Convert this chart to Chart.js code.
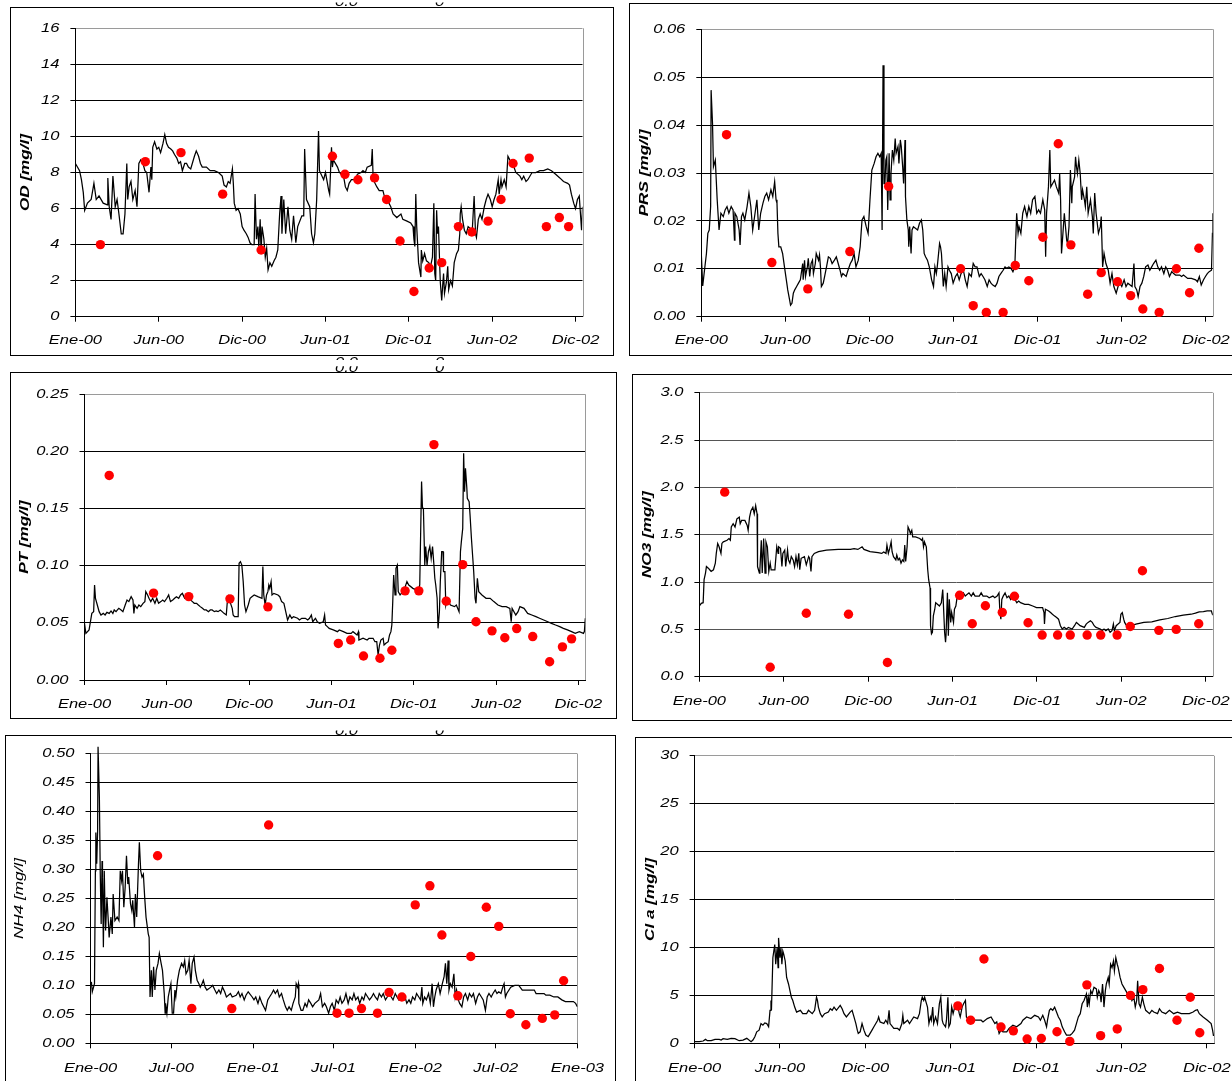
<!DOCTYPE html>
<html>
<head>
<meta charset="utf-8">
<title>Calidad del agua 2000-2002</title>
<script src="https://cdn.jsdelivr.net/npm/chart.js@4.4.1/dist/chart.umd.min.js"></script>
<style>
  html, body { margin: 0; padding: 0; background: #fff; overflow: hidden; width: 1232px; height: 1081px; }
  canvas { position: absolute; }
</style>
</head>
<body>
<canvas id="bg" width="1232" height="1081" style="left:0;top:0"></canvas>
<canvas id="cOD"></canvas>
<canvas id="cPRS"></canvas>
<canvas id="cPT"></canvas>
<canvas id="cNO3"></canvas>
<canvas id="cNH4"></canvas>
<canvas id="cCLA"></canvas>
<script>
// ---- Time axis (days since 1 Jan 2000) ----
const xTickDays = [0, 180, 360, 540, 720, 900, 1080];
const xTickLabels = ['Ene-00', 'Jun-00', 'Dic-00', 'Jun-01', 'Dic-01', 'Jun-02', 'Dic-02'];
const xTickDaysNH4 = [0, 182, 366, 547, 731, 912, 1096];
const xTickLabelsNH4 = ['Ene-00', 'Jul-00', 'Ene-01', 'Jul-01', 'Ene-02', 'Jul-02', 'Ene-03'];

// ---- Y tick labels ----
const odYLabels = ['0', '2', '4', '6', '8', '10', '12', '14', '16'];
const prsYLabels = ['0.00', '0.01', '0.02', '0.03', '0.04', '0.05', '0.06'];
const ptYLabels = ['0.00', '0.05', '0.10', '0.15', '0.20', '0.25'];
const no3YLabels = ['0.0', '0.5', '1.0', '1.5', '2.0', '2.5', '3.0'];
const nh4YLabels = ['0.00', '0.05', '0.10', '0.15', '0.20', '0.25', '0.30', '0.35', '0.40', '0.45', '0.50'];
const claYLabels = ['0', '5', '10', '15', '20', '25', '30'];

// ---- Field samples (day of sampling, measured values) ----
const sampleDays = [54, 151, 228, 318, 401, 555, 582, 610, 646, 672, 701, 731, 764, 791, 827, 856, 891, 919, 945, 980, 1017, 1045, 1065];
const odSamples = [4.0, 8.6, 9.1, 6.8, 3.7, 8.9, 7.9, 7.6, 7.7, 6.5, 4.2, 1.4, 2.7, 3.0, 5.0, 4.7, 5.3, 6.5, 8.5, 8.8, 5.0, 5.5, 5.0];
const prsSamples = [0.0380, 0.0113, 0.0058, 0.0136, 0.0272, 0.0100, 0.0023, 0.0009, 0.0009, 0.0107, 0.0075, 0.0166, 0.0361, 0.0150, 0.0047, 0.0092, 0.0073, 0.0044, 0.0016, 0.0009, 0.0100, 0.0050, 0.0143];
const ptSamples = [0.179, 0.076, 0.073, 0.071, 0.064, 0.032, 0.035, 0.021, 0.019, 0.026, 0.078, 0.078, 0.206, 0.069, 0.101, 0.051, 0.043, 0.037, 0.045, 0.038, 0.016, 0.029, 0.036];
const no3Samples = [1.95, 0.10, 0.67, 0.66, 0.15, 0.86, 0.56, 0.75, 0.68, 0.85, 0.57, 0.44, 0.44, 0.44, 0.44, 0.44, 0.44, 0.53, 1.12, 0.49, 0.50, null, 0.56];
const nh4Samples = [null, 0.324, 0.060, 0.060, 0.377, 0.052, 0.052, 0.060, 0.052, 0.088, 0.080, 0.239, 0.272, 0.187, 0.082, 0.150, 0.235, 0.202, 0.051, 0.032, 0.043, 0.049, 0.108];
const claSamples = [null, null, null, null, null, 3.9, 2.4, 8.8, 1.7, 1.3, 0.45, 0.5, 1.2, 0.2, 6.1, 0.8, 1.5, 5.0, 5.6, 7.8, 2.4, 4.8, 1.1];

// ---- Simulated series ([day, value]) ----
const odLine = [[0,8.5],[9,8.1],[13,7.6],[17,6.9],[20,5.9],[26,6.3],[34,6.5],[40,7.4],[45,6.5],[51,6.7],[60,6.3],[69,6.2],[70,7.7],[73,6.1],[77,5.4],[81,7.8],[86,6.1],[90,6.5],[94,5.7],[99,4.6],[103,4.6],[107,5.7],[111,8.5],[113,6.5],[116,7.2],[120,7.5],[124,6.5],[129,7.0],[133,6.1],[137,8.5],[141,8.7],[146,8.5],[150,8.1],[154,8.0],[159,6.9],[163,8.3],[165,7.6],[167,9.4],[171,9.7],[176,9.3],[180,9.4],[184,9.1],[189,9.6],[193,10.1],[197,9.6],[201,9.4],[206,9.3],[210,9.2],[214,9.0],[219,8.8],[223,8.5],[227,8.6],[231,8.1],[236,8.5],[240,8.5],[244,8.3],[249,8.2],[257,8.9],[261,9.2],[266,8.9],[270,8.5],[274,8.3],[283,8.3],[291,8.1],[300,8.1],[309,8.0],[317,7.8],[321,7.3],[326,7.2],[330,7.5],[334,7.4],[339,8.2],[341,7.4],[343,6.3],[347,5.9],[351,6.0],[356,5.7],[360,5.0],[364,4.8],[369,4.6],[373,4.4],[377,4.1],[381,4.0],[386,4.0],[388,6.8],[391,4.3],[394,5.0],[396,3.9],[399,5.4],[401,3.5],[403,5.0],[407,4.3],[410,3.3],[413,3.8],[416,2.6],[420,3.0],[424,2.8],[429,3.1],[433,3.3],[437,3.7],[441,5.7],[444,6.7],[446,4.6],[450,6.5],[454,4.6],[459,6.1],[463,4.8],[467,4.3],[471,5.6],[476,4.1],[480,5.0],[489,5.6],[493,5.6],[495,9.3],[499,6.5],[506,6.1],[510,4.6],[514,4.1],[517,4.6],[521,6.5],[525,10.3],[527,8.1],[536,7.6],[540,8.0],[547,7.0],[549,6.8],[551,8.1],[553,9.4],[555,8.3],[557,8.7],[566,8.3],[570,8.0],[579,7.8],[583,7.2],[587,7.0],[591,7.4],[596,7.6],[604,7.6],[609,7.9],[617,8.0],[621,8.1],[626,8.0],[630,8.3],[639,8.4],[641,9.3],[643,7.6],[651,7.2],[656,7.0],[664,7.0],[669,6.5],[677,6.3],[681,6.1],[686,5.7],[694,5.5],[703,5.7],[707,5.4],[716,5.3],[724,5.2],[729,5.0],[731,4.3],[733,3.9],[735,6.8],[737,5.0],[741,3.0],[746,2.2],[747,3.7],[750,3.1],[754,3.5],[758,3.1],[763,3.0],[767,2.8],[771,3.3],[774,6.3],[776,2.4],[778,2.0],[780,5.9],[782,4.6],[784,5.0],[787,2.6],[788,1.9],[791,0.9],[793,1.7],[795,2.4],[797,1.3],[801,1.9],[804,2.8],[806,1.5],[810,2.0],[814,1.7],[818,3.0],[823,3.5],[827,3.7],[830,4.6],[831,5.7],[833,6.1],[836,5.4],[840,4.8],[844,4.6],[848,5.0],[857,4.8],[861,6.7],[864,4.6],[866,4.4],[870,5.4],[874,5.7],[878,5.4],[883,6.1],[887,6.5],[891,6.8],[896,6.5],[900,6.1],[904,6.5],[908,6.8],[913,7.6],[915,6.8],[919,7.6],[921,7.2],[926,7.6],[930,7.2],[934,8.9],[938,8.7],[943,8.5],[947,8.3],[951,8.0],[960,7.8],[964,7.6],[968,7.8],[973,7.5],[977,7.6],[986,8.0],[994,8.0],[1003,8.1],[1011,8.1],[1020,8.2],[1028,8.1],[1037,7.9],[1046,7.7],[1054,7.5],[1063,7.4],[1067,7.3],[1071,6.8],[1076,6.3],[1080,6.0],[1084,6.5],[1088,6.7],[1093,4.8],[1095,6.1]];

const prsLine = [[0,0.0132],[3,0.0064],[6,0.0090],[11,0.0132],[14,0.0174],[17,0.0181],[20,0.0230],[21,0.0473],[24,0.0404],[26,0.0313],[30,0.0327],[34,0.0244],[38,0.0181],[42,0.0216],[47,0.0209],[51,0.0223],[55,0.0230],[59,0.0216],[64,0.0230],[68,0.0223],[71,0.0160],[72,0.0216],[76,0.0209],[81,0.0181],[83,0.0150],[86,0.0209],[89,0.0216],[93,0.0202],[98,0.0230],[102,0.0258],[106,0.0230],[110,0.0181],[115,0.0216],[119,0.0244],[123,0.0181],[127,0.0216],[132,0.0237],[136,0.0251],[140,0.0258],[144,0.0244],[149,0.0265],[153,0.0251],[157,0.0282],[160,0.0244],[162,0.0237],[164,0.0174],[166,0.0146],[170,0.0146],[174,0.0132],[178,0.0104],[183,0.0070],[185,0.0056],[189,0.0035],[191,0.0024],[194,0.0028],[197,0.0049],[200,0.0056],[204,0.0063],[208,0.0070],[212,0.0077],[217,0.0111],[218,0.0077],[221,0.0118],[223,0.0084],[227,0.0104],[229,0.0122],[232,0.0084],[235,0.0111],[238,0.0118],[240,0.0090],[244,0.0111],[246,0.0132],[251,0.0118],[253,0.0129],[255,0.0104],[257,0.0063],[261,0.0070],[264,0.0084],[268,0.0104],[272,0.0125],[276,0.0122],[280,0.0111],[285,0.0118],[289,0.0125],[293,0.0111],[297,0.0097],[300,0.0084],[303,0.0090],[310,0.0084],[314,0.0097],[319,0.0111],[323,0.0118],[327,0.0132],[331,0.0104],[336,0.0118],[340,0.0146],[344,0.0202],[348,0.0209],[353,0.0188],[357,0.0174],[361,0.0244],[365,0.0306],[370,0.0320],[374,0.0334],[378,0.0341],[382,0.0334],[385,0.0341],[387,0.0181],[389,0.0525],[391,0.0278],[393,0.0278],[395,0.0327],[397,0.0334],[399,0.0223],[402,0.0341],[404,0.0244],[406,0.0299],[409,0.0348],[412,0.0327],[415,0.0372],[417,0.0341],[421,0.0355],[423,0.0320],[426,0.0369],[428,0.0355],[431,0.0313],[433,0.0278],[436,0.0369],[437,0.0251],[440,0.0202],[443,0.0181],[444,0.0146],[446,0.0188],[449,0.0132],[451,0.0181],[454,0.0188],[463,0.0181],[467,0.0195],[471,0.0202],[474,0.0181],[477,0.0132],[480,0.0125],[484,0.0118],[488,0.0104],[493,0.0077],[497,0.0063],[500,0.0104],[503,0.0090],[505,0.0104],[510,0.0153],[512,0.0146],[514,0.0132],[518,0.0063],[521,0.0090],[524,0.0063],[528,0.0104],[531,0.0097],[535,0.0090],[539,0.0070],[544,0.0084],[548,0.0090],[552,0.0077],[556,0.0090],[561,0.0097],[565,0.0077],[569,0.0063],[573,0.0090],[578,0.0084],[582,0.0111],[586,0.0104],[590,0.0104],[595,0.0084],[599,0.0090],[603,0.0084],[607,0.0077],[612,0.0063],[616,0.0077],[620,0.0070],[624,0.0066],[629,0.0063],[633,0.0070],[637,0.0084],[641,0.0090],[646,0.0097],[650,0.0104],[654,0.0101],[658,0.0104],[663,0.0101],[667,0.0094],[671,0.0104],[675,0.0216],[678,0.0174],[680,0.0188],[684,0.0174],[688,0.0216],[692,0.0230],[697,0.0209],[701,0.0230],[705,0.0216],[709,0.0244],[714,0.0251],[718,0.0216],[722,0.0223],[726,0.0216],[731,0.0244],[735,0.0223],[737,0.0125],[739,0.0216],[743,0.0271],[746,0.0348],[748,0.0271],[752,0.0278],[756,0.0285],[760,0.0271],[765,0.0258],[767,0.0299],[769,0.0244],[771,0.0132],[774,0.0174],[777,0.0216],[782,0.0160],[784,0.0153],[787,0.0188],[790,0.0306],[793,0.0237],[794,0.0271],[799,0.0292],[801,0.0334],[803,0.0313],[805,0.0299],[808,0.0327],[811,0.0299],[814,0.0244],[816,0.0265],[820,0.0244],[822,0.0230],[825,0.0271],[828,0.0216],[833,0.0244],[837,0.0209],[839,0.0174],[842,0.0258],[845,0.0216],[850,0.0174],[854,0.0188],[856,0.0209],[859,0.0104],[862,0.0132],[866,0.0111],[871,0.0097],[875,0.0070],[879,0.0090],[883,0.0063],[888,0.0049],[892,0.0063],[896,0.0070],[900,0.0063],[905,0.0077],[909,0.0063],[913,0.0070],[922,0.0063],[926,0.0111],[928,0.0063],[932,0.0056],[935,0.0042],[939,0.0063],[943,0.0070],[947,0.0084],[951,0.0104],[956,0.0108],[960,0.0097],[964,0.0104],[968,0.0111],[973,0.0118],[977,0.0104],[981,0.0097],[985,0.0104],[990,0.0090],[994,0.0104],[998,0.0097],[1002,0.0084],[1007,0.0094],[1011,0.0090],[1015,0.0087],[1024,0.0087],[1028,0.0084],[1032,0.0087],[1041,0.0080],[1049,0.0080],[1058,0.0077],[1062,0.0073],[1066,0.0084],[1070,0.0066],[1075,0.0077],[1079,0.0084],[1083,0.0090],[1087,0.0094],[1092,0.0097],[1094,0.0174],[1095,0.0216]];

const ptLine = [[0,0.0496],[3,0.0408],[10,0.0438],[13,0.0510],[16,0.0583],[20,0.0598],[22,0.0831],[24,0.0715],[28,0.0656],[32,0.0598],[36,0.0569],[41,0.0583],[45,0.0569],[49,0.0592],[54,0.0583],[58,0.0604],[62,0.0583],[65,0.0613],[69,0.0598],[72,0.0613],[75,0.0627],[80,0.0613],[84,0.0598],[89,0.0656],[93,0.0700],[97,0.0686],[102,0.0729],[106,0.0700],[108,0.0583],[110,0.0656],[115,0.0627],[119,0.0656],[123,0.0642],[128,0.0671],[132,0.0686],[134,0.0773],[138,0.0744],[141,0.0715],[145,0.0686],[149,0.0715],[154,0.0671],[158,0.0715],[162,0.0671],[167,0.0686],[171,0.0700],[175,0.0686],[180,0.0715],[184,0.0744],[188,0.0686],[193,0.0700],[197,0.0715],[201,0.0729],[206,0.0715],[210,0.0744],[214,0.0758],[219,0.0715],[223,0.0729],[227,0.0715],[232,0.0700],[236,0.0686],[240,0.0671],[245,0.0671],[249,0.0656],[253,0.0642],[258,0.0627],[262,0.0613],[266,0.0613],[271,0.0598],[275,0.0613],[279,0.0613],[284,0.0598],[288,0.0604],[292,0.0598],[297,0.0613],[301,0.0598],[305,0.0583],[310,0.0569],[312,0.0671],[315,0.0729],[318,0.0686],[323,0.0627],[325,0.0569],[328,0.0554],[336,0.0554],[338,0.1021],[341,0.1036],[344,0.1006],[347,0.0861],[350,0.0656],[353,0.0598],[358,0.0656],[362,0.0715],[366,0.0729],[371,0.0744],[379,0.0729],[388,0.0715],[390,0.0992],[392,0.0744],[395,0.0656],[398,0.0744],[401,0.0773],[403,0.0831],[405,0.0802],[408,0.0861],[410,0.0744],[414,0.0758],[423,0.0744],[427,0.0729],[431,0.0686],[436,0.0671],[440,0.0598],[444,0.0525],[449,0.0569],[453,0.0540],[457,0.0554],[466,0.0540],[470,0.0525],[475,0.0540],[483,0.0540],[488,0.0525],[492,0.0540],[496,0.0569],[499,0.0510],[505,0.0540],[509,0.0510],[514,0.0496],[522,0.0510],[525,0.0569],[527,0.0481],[531,0.0467],[535,0.0452],[544,0.0438],[553,0.0423],[557,0.0438],[566,0.0423],[574,0.0408],[583,0.0408],[587,0.0423],[596,0.0394],[599,0.0423],[600,0.0350],[609,0.0365],[618,0.0350],[622,0.0365],[631,0.0365],[635,0.0335],[639,0.0335],[642,0.0219],[645,0.0306],[648,0.0350],[653,0.0365],[655,0.0306],[659,0.0321],[664,0.0335],[667,0.0394],[670,0.0423],[672,0.0481],[674,0.0686],[676,0.0919],[679,0.0744],[681,0.0977],[684,0.1006],[686,0.0773],[690,0.0744],[696,0.0773],[700,0.0802],[705,0.0861],[709,0.0831],[718,0.0802],[726,0.0788],[731,0.0802],[733,0.0831],[737,0.1736],[739,0.1502],[741,0.1502],[744,0.1006],[746,0.1167],[749,0.1006],[752,0.1123],[755,0.1167],[758,0.1065],[761,0.1167],[764,0.1006],[766,0.0890],[768,0.0831],[771,0.0715],[773,0.0452],[776,0.0598],[778,0.0861],[781,0.1123],[784,0.1123],[785,0.0948],[788,0.0948],[790,0.0656],[793,0.0715],[800,0.0656],[809,0.0642],[813,0.0656],[819,0.0598],[822,0.1123],[824,0.1211],[827,0.1327],[829,0.1984],[831,0.1648],[833,0.1852],[836,0.1677],[837,0.1590],[841,0.1561],[843,0.1444],[846,0.1240],[849,0.1065],[851,0.0948],[854,0.0715],[856,0.0671],[859,0.0890],[862,0.0773],[869,0.0744],[878,0.0715],[887,0.0715],[895,0.0686],[904,0.0656],[913,0.0642],[922,0.0642],[930,0.0627],[933,0.0510],[935,0.0627],[943,0.0569],[948,0.0598],[952,0.0642],[961,0.0627],[969,0.0583],[978,0.0569],[987,0.0554],[995,0.0540],[1004,0.0525],[1013,0.0510],[1021,0.0496],[1030,0.0481],[1039,0.0467],[1047,0.0452],[1056,0.0438],[1065,0.0423],[1073,0.0408],[1082,0.0423],[1091,0.0408],[1093,0.0423],[1095,0.0540]];

const no3Line = [[0,0.747],[4,0.775],[8,0.782],[10,1.025],[13,1.095],[15,1.164],[19,1.147],[22,1.130],[25,1.112],[30,1.130],[34,1.199],[36,1.303],[39,1.408],[42,1.373],[46,1.303],[48,1.408],[51,1.425],[59,1.442],[63,1.460],[66,1.442],[68,1.582],[72,1.616],[76,1.582],[80,1.668],[85,1.686],[87,1.616],[90,1.651],[97,1.651],[102,1.599],[104,1.547],[107,1.686],[110,1.755],[114,1.790],[117,1.721],[120,1.807],[123,1.721],[124,1.164],[128,1.095],[129,1.130],[132,1.442],[134,1.095],[137,1.460],[140,1.095],[142,1.425],[145,1.373],[148,1.112],[151,1.199],[153,1.130],[161,1.130],[165,1.373],[168,1.303],[169,1.373],[173,1.356],[176,1.164],[178,1.303],[182,1.338],[184,1.164],[188,1.338],[190,1.234],[193,1.199],[196,1.269],[200,1.234],[203,1.164],[206,1.269],[209,1.182],[212,1.303],[214,1.130],[217,1.251],[224,1.269],[228,1.182],[233,1.269],[235,1.251],[238,1.112],[240,1.269],[245,1.303],[254,1.321],[271,1.338],[296,1.345],[322,1.345],[330,1.352],[338,1.345],[347,1.373],[351,1.345],[364,1.321],[381,1.310],[389,1.303],[393,1.317],[398,1.303],[400,1.390],[403,1.303],[406,1.356],[409,1.425],[411,1.321],[414,1.269],[419,1.234],[421,1.286],[424,1.234],[427,1.251],[430,1.199],[433,1.234],[436,1.217],[438,1.390],[440,1.217],[443,1.373],[445,1.582],[448,1.547],[450,1.512],[453,1.547],[455,1.477],[461,1.477],[470,1.460],[474,1.442],[476,1.460],[478,1.373],[480,1.425],[484,1.373],[487,1.130],[489,1.025],[492,0.938],[493,0.539],[495,0.452],[497,0.469],[499,0.643],[502,0.713],[504,0.782],[512,0.747],[516,0.782],[519,0.921],[520,0.817],[523,0.469],[525,0.365],[526,0.434],[529,0.886],[531,0.434],[533,0.817],[536,0.574],[538,0.678],[542,0.574],[544,0.713],[547,0.747],[550,0.852],[554,0.886],[558,0.852],[563,0.886],[567,0.852],[575,0.886],[580,0.852],[584,0.886],[588,0.852],[597,0.852],[601,0.886],[605,0.852],[613,0.852],[618,0.834],[626,0.852],[630,0.834],[635,0.852],[639,0.886],[641,0.678],[643,0.608],[645,0.817],[648,0.852],[652,0.886],[656,0.834],[660,0.852],[664,0.817],[668,0.852],[673,0.817],[677,0.782],[681,0.799],[685,0.782],[694,0.765],[702,0.765],[711,0.747],[719,0.730],[728,0.730],[732,0.730],[735,0.678],[736,0.556],[738,0.713],[745,0.695],[749,0.678],[753,0.660],[757,0.643],[762,0.626],[766,0.608],[770,0.539],[774,0.504],[778,0.521],[783,0.504],[787,0.521],[795,0.504],[800,0.539],[804,0.574],[808,0.556],[812,0.539],[821,0.521],[825,0.556],[829,0.574],[834,0.591],[838,0.574],[842,0.539],[846,0.521],[855,0.504],[859,0.487],[863,0.504],[867,0.487],[872,0.504],[876,0.469],[880,0.487],[883,0.556],[885,0.487],[889,0.539],[893,0.556],[897,0.574],[899,0.660],[902,0.678],[905,0.608],[907,0.574],[911,0.539],[914,0.556],[922,0.539],[931,0.556],[948,0.574],[965,0.580],[982,0.601],[999,0.615],[1015,0.636],[1032,0.650],[1049,0.660],[1058,0.671],[1066,0.685],[1075,0.688],[1083,0.695],[1092,0.695],[1095,0.650]];

const nh4Line = [[2,0.106],[4,0.089],[9,0.103],[11,0.298],[12,0.364],[14,0.310],[16,0.367],[17,0.512],[19,0.512],[20,0.424],[22,0.292],[24,0.206],[26,0.315],[27,0.287],[29,0.166],[31,0.298],[33,0.218],[34,0.195],[37,0.252],[40,0.212],[42,0.183],[46,0.218],[49,0.189],[51,0.258],[55,0.212],[60,0.218],[64,0.212],[67,0.298],[70,0.281],[72,0.298],[75,0.235],[78,0.269],[81,0.324],[84,0.275],[86,0.287],[90,0.241],[93,0.229],[95,0.247],[99,0.201],[101,0.258],[104,0.218],[108,0.310],[110,0.347],[113,0.298],[116,0.287],[119,0.292],[122,0.252],[125,0.218],[130,0.189],[132,0.183],[134,0.080],[137,0.126],[139,0.080],[142,0.132],[145,0.092],[148,0.126],[152,0.138],[155,0.155],[159,0.138],[162,0.126],[166,0.086],[168,0.052],[169,0.069],[172,0.052],[175,0.080],[178,0.092],[181,0.103],[184,0.052],[187,0.052],[190,0.092],[192,0.080],[196,0.109],[200,0.126],[205,0.138],[209,0.132],[212,0.143],[215,0.120],[219,0.126],[222,0.143],[226,0.103],[229,0.138],[233,0.149],[236,0.126],[240,0.109],[244,0.103],[247,0.097],[251,0.103],[254,0.109],[258,0.097],[262,0.092],[271,0.097],[275,0.100],[280,0.092],[284,0.086],[289,0.092],[293,0.086],[297,0.097],[302,0.089],[306,0.080],[315,0.086],[319,0.080],[328,0.083],[333,0.089],[337,0.080],[341,0.086],[346,0.075],[350,0.083],[355,0.089],[364,0.080],[368,0.075],[372,0.080],[377,0.069],[381,0.080],[386,0.069],[390,0.063],[394,0.057],[399,0.075],[403,0.080],[408,0.086],[412,0.092],[416,0.086],[421,0.092],[425,0.080],[430,0.086],[434,0.075],[439,0.063],[443,0.057],[447,0.063],[452,0.057],[456,0.069],[461,0.080],[463,0.103],[466,0.097],[468,0.103],[469,0.069],[474,0.057],[478,0.057],[483,0.069],[487,0.063],[491,0.075],[496,0.069],[500,0.063],[505,0.069],[514,0.075],[518,0.086],[522,0.063],[527,0.069],[531,0.063],[536,0.052],[540,0.063],[544,0.069],[549,0.057],[553,0.075],[558,0.069],[562,0.080],[566,0.069],[571,0.075],[575,0.086],[580,0.069],[584,0.080],[589,0.075],[593,0.086],[597,0.075],[602,0.080],[606,0.069],[611,0.080],[615,0.075],[619,0.086],[624,0.080],[628,0.075],[633,0.080],[637,0.086],[641,0.080],[646,0.075],[650,0.086],[655,0.080],[659,0.086],[664,0.075],[668,0.080],[672,0.086],[677,0.080],[681,0.075],[686,0.086],[690,0.080],[694,0.075],[699,0.080],[703,0.075],[708,0.080],[712,0.069],[717,0.075],[721,0.069],[725,0.080],[730,0.075],[734,0.086],[739,0.080],[743,0.075],[746,0.097],[748,0.069],[752,0.080],[756,0.075],[761,0.086],[765,0.069],[769,0.103],[772,0.063],[775,0.080],[778,0.092],[783,0.103],[787,0.086],[792,0.103],[796,0.115],[799,0.138],[802,0.103],[805,0.143],[807,0.092],[810,0.103],[814,0.097],[818,0.120],[821,0.080],[824,0.092],[828,0.075],[831,0.069],[836,0.063],[840,0.080],[844,0.086],[849,0.075],[853,0.086],[858,0.080],[862,0.086],[867,0.069],[871,0.080],[875,0.086],[880,0.080],[884,0.075],[889,0.057],[893,0.080],[897,0.086],[902,0.080],[906,0.086],[911,0.092],[915,0.086],[919,0.089],[924,0.086],[928,0.097],[931,0.103],[934,0.080],[937,0.086],[946,0.097],[955,0.100],[964,0.100],[972,0.092],[981,0.092],[990,0.092],[999,0.092],[1003,0.086],[1012,0.086],[1021,0.086],[1025,0.083],[1034,0.083],[1043,0.080],[1052,0.080],[1061,0.075],[1069,0.072],[1078,0.072],[1087,0.072],[1092,0.069],[1096,0.063]];

const claLine = [[0,0.17],[10,0.17],[18,0.24],[23,0.41],[27,0.27],[35,0.27],[43,0.41],[52,0.41],[56,0.34],[60,0.48],[69,0.41],[77,0.52],[85,0.48],[94,0.27],[102,0.34],[110,0.52],[119,0.17],[123,0.34],[127,0.69],[131,1.20],[136,1.37],[140,2.06],[144,1.89],[148,2.13],[152,2.06],[156,1.72],[159,3.44],[161,4.47],[162,3.44],[165,8.93],[167,9.62],[169,10.31],[171,8.25],[174,9.97],[176,7.90],[177,11.00],[180,8.93],[182,9.97],[184,8.25],[186,9.62],[188,9.28],[191,8.59],[194,6.87],[198,6.19],[201,5.50],[204,4.81],[207,4.47],[211,3.78],[215,3.26],[223,3.44],[228,3.09],[236,3.09],[240,3.44],[248,3.09],[253,3.44],[257,4.81],[259,4.47],[261,3.78],[265,3.09],[269,2.75],[274,3.09],[282,3.26],[286,3.61],[290,3.44],[294,3.78],[299,3.44],[307,3.95],[311,3.61],[315,3.09],[320,2.75],[328,3.26],[332,3.44],[336,2.75],[340,2.06],[343,1.37],[345,1.03],[349,1.20],[353,2.06],[357,1.37],[361,0.86],[366,0.69],[370,1.03],[374,1.37],[378,1.72],[386,2.41],[388,2.75],[391,2.23],[399,2.06],[403,2.41],[407,2.06],[410,3.44],[412,2.06],[420,1.55],[428,1.55],[432,1.37],[437,2.06],[439,2.92],[441,2.06],[449,2.41],[453,2.06],[462,2.75],[470,2.58],[474,3.09],[478,4.47],[480,4.81],[483,4.47],[485,4.81],[489,4.12],[491,3.78],[494,2.06],[497,2.75],[499,2.41],[502,3.78],[504,2.06],[508,2.75],[512,2.06],[516,4.12],[519,4.81],[522,2.41],[524,2.06],[529,1.72],[531,2.41],[534,4.81],[536,1.72],[539,2.06],[542,3.78],[545,3.09],[550,4.12],[554,4.12],[558,3.09],[560,2.75],[564,3.78],[567,4.12],[571,4.47],[573,2.75],[579,2.41],[583,2.58],[587,2.41],[596,2.41],[604,2.41],[608,2.23],[617,2.58],[625,2.75],[629,2.41],[633,2.06],[637,2.23],[642,1.03],[646,1.37],[650,1.20],[658,1.20],[663,1.55],[671,1.89],[679,1.72],[688,2.06],[692,2.41],[700,2.75],[709,2.58],[717,2.92],[725,2.75],[729,2.41],[734,2.92],[738,2.41],[742,1.72],[744,2.41],[748,3.44],[751,3.61],[755,3.44],[759,3.78],[763,3.26],[767,2.75],[771,2.41],[775,1.72],[780,1.20],[784,0.86],[792,0.86],[796,1.03],[801,1.37],[805,2.06],[809,2.75],[813,3.09],[817,4.12],[821,4.47],[826,5.15],[828,3.78],[830,4.81],[832,4.12],[835,5.50],[838,5.15],[842,5.84],[847,5.67],[849,4.81],[852,5.50],[855,5.15],[857,4.30],[860,6.19],[862,4.81],[863,3.78],[866,5.50],[868,6.19],[872,6.87],[874,6.19],[877,8.25],[880,7.90],[883,8.59],[885,7.56],[888,8.93],[891,8.25],[893,7.90],[897,6.87],[901,6.19],[905,5.84],[909,5.50],[913,5.15],[918,4.98],[922,4.47],[926,4.81],[929,3.78],[932,4.47],[934,6.53],[937,4.12],[940,3.78],[944,4.81],[947,4.12],[951,3.44],[959,3.09],[964,3.44],[968,3.26],[976,3.09],[980,3.61],[985,3.26],[993,3.09],[1001,3.44],[1010,3.09],[1018,3.26],[1026,3.09],[1035,3.09],[1043,3.09],[1051,3.26],[1056,3.44],[1060,3.51],[1064,3.09],[1072,2.75],[1081,2.41],[1089,2.06],[1092,1.37],[1094,0.76]];

// ---- Rendering ----
const FONT = "'Liberation Sans', Arial, Helvetica, sans-serif";
const WIDE = 1.27; // horizontal text stretch used throughout the figure

// Stretch every glyph along its own baseline (works for rotated titles too).
function widenText(ctx, k) {
  const fill = ctx.fillText.bind(ctx);
  const measure = ctx.measureText.bind(ctx);
  ctx.fillText = function (t, x, y) {
    ctx.save(); ctx.translate(x, y); ctx.scale(k, 1); fill(t, 0, 0); ctx.restore();
  };
  ctx.measureText = function (t) {
    const m = measure(t);
    return {
      width: m.width * k,
      actualBoundingBoxAscent: m.actualBoundingBoxAscent,
      actualBoundingBoxDescent: m.actualBoundingBoxDescent,
      actualBoundingBoxLeft: m.actualBoundingBoxLeft * k,
      actualBoundingBoxRight: m.actualBoundingBoxRight * k,
      fontBoundingBoxAscent: m.fontBoundingBoxAscent,
      fontBoundingBoxDescent: m.fontBoundingBoxDescent
    };
  };
}

// Gray right edge of the plot area and the black frame around each panel.
const framePlugin = {
  id: 'panelFrame',
  beforeDatasetsDraw(chart) {
    const { ctx, chartArea: a } = chart;
    ctx.save();
    ctx.strokeStyle = '#9a9a9a';
    ctx.lineWidth = 1;
    const rx = Math.round(a.right) + 0.5;
    ctx.beginPath(); ctx.moveTo(rx, a.top); ctx.lineTo(rx, a.bottom); ctx.stroke();
    ctx.restore();
  },
  afterDraw(chart) {
    const { ctx, width, height } = chart;
    ctx.save();
    ctx.strokeStyle = '#000';
    ctx.lineWidth = 1;
    ctx.strokeRect(0.5, 0.5, width - 1, height - 1);
    ctx.restore();
  }
};

const panels = [
  { id: 'cOD',  box: [10, 7, 604, 349],   plot: [75.4, 28.3, 582.5, 316.7],  title: 'OD [mg/l]',   bold: true,  titleX: 15,   xPad: 11,
    yLabels: odYLabels,  xDays: xTickDays, xLabels: xTickLabels, xMax: 1095, line: odLine,  samples: odSamples,  grid: '#000' },
  { id: 'cPRS', box: [629, 3, 620, 353],  plot: [701.3, 29.3, 1212.9, 316.7], title: 'PRS [mg/l]', bold: true,  titleX: 15,   xPad: 11,
    yLabels: prsYLabels, xDays: xTickDays, xLabels: xTickLabels, xMax: 1095, line: prsLine, samples: prsSamples, grid: '#000' },
  { id: 'cPT',  box: [10, 372, 607, 347], plot: [84.5, 394.3, 585.3, 680],   title: 'PT [mg/l]',   bold: true,  titleX: 14.6, xPad: 12,
    yLabels: ptYLabels,  xDays: xTickDays, xLabels: xTickLabels, xMax: 1095, line: ptLine,  samples: ptSamples,  grid: '#000' },
  { id: 'cNO3', box: [632, 374, 610, 347], plot: [699.4, 389, 1212.9, 676.7], title: 'NO3 [mg/l]', bold: true,  titleX: 15,   xPad: 12,
    yLabels: no3YLabels, xDays: xTickDays, xLabels: xTickLabels, xMax: 1095, line: no3Line, samples: no3Samples, grid: '#555' },
  { id: 'cNH4', box: [5, 735, 611, 360],  plot: [90.5, 752.7, 583.3, 1043.3], title: 'NH4 [mg/l]', bold: false, titleX: 14,   xPad: 12,
    yLabels: nh4YLabels, xDays: xTickDaysNH4, xLabels: xTickLabelsNH4, xMax: 1096, line: nh4Line, samples: nh4Samples, grid: '#000', lineClip: { left: 0, top: 8, right: 0, bottom: 0 } },
  { id: 'cCLA', box: [635, 737, 610, 360], plot: [694.6, 752.3, 1214, 1043.3], title: 'Cl a [mg/l]', bold: true, titleX: 14.8, xPad: 12,
    yLabels: claYLabels, xDays: xTickDays, xLabels: xTickLabels, xMax: 1095, line: claLine, samples: claSamples, grid: '#000' }
];

const tickFont = { family: FONT, size: 13, style: 'italic' };

panels.forEach(p => {
  const cv = document.getElementById(p.id);
  const [bx, by, bw, bh] = p.box;
  const [pl, pt, pr, pb] = p.plot;
  cv.width = bw; cv.height = bh;
  cv.style.left = bx + 'px'; cv.style.top = by + 'px';
  const ctx = cv.getContext('2d');
  widenText(ctx, WIDE);

  const yVals = p.yLabels.map(Number);
  const topIdx = yVals.length - 1;
  const titleSize = 13.5;

  new Chart(ctx, {
    type: 'scatter',
    data: {
      datasets: [
        {
          data: sampleDays.map((d, i) => ({ x: d, y: p.samples[i] })),
          pointRadius: 4.7,
          pointBackgroundColor: '#ff0000',
          pointBorderColor: '#ff0000',
          pointBorderWidth: 0,
          clip: false
        },
        {
          data: p.line.map(([x, y]) => ({ x, y })),
          showLine: true,
          pointRadius: 0,
          borderColor: '#000',
          borderWidth: 1.25,
          tension: 0,
          clip: p.lineClip || 0
        }
      ]
    },
    options: {
      responsive: false,
      animation: false,
      devicePixelRatio: 1,
      events: [],
      layout: { padding: { left: 0, top: pt - by, right: bx + bw - pr, bottom: 0 } },
      plugins: { legend: { display: false }, tooltip: { enabled: false } },
      scales: {
        x: {
          type: 'linear', min: 0, max: p.xMax,
          afterBuildTicks: s => { s.ticks = p.xDays.map(v => ({ value: v })); },
          afterFit: s => { s.height = by + bh - pb; },
          grid: { display: true, drawOnChartArea: false, drawTicks: true, tickLength: 5, color: '#000' },
          border: { display: true, color: '#000', width: 1 },
          ticks: { autoSkip: false, maxRotation: 0, minRotation: 0, padding: p.xPad, color: '#000', font: tickFont,
                   callback: (v, i) => p.xLabels[i] }
        },
        y: {
          type: 'linear', min: 0, max: yVals[topIdx],
          afterBuildTicks: s => { s.ticks = yVals.map(v => ({ value: v })); },
          afterFit: s => { s.width = pl - bx; },
          grid: { color: c => (c.index === topIdx ? '#9a9a9a' : p.grid), tickColor: '#000', tickLength: 5, drawTicks: true, lineWidth: 1 },
          border: { display: true, color: '#000', width: 1 },
          ticks: { padding: 11, color: '#000', font: tickFont, callback: (v, i) => p.yLabels[i] },
          title: {
            display: true, text: p.title, color: '#000',
            font: { family: FONT, size: titleSize, style: 'italic', weight: p.bold ? 'bold' : 'normal' },
            padding: { top: p.titleX - titleSize * 0.6, bottom: 0 }
          }
        }
      }
    },
    plugins: [framePlugin]
  });
});

// Clipped labels showing in the gaps between panels.
const strayLabels = [[335, '0.0'], [435, '0']];
const strayBands = [[2.5, 7, 6.3], [356.5, 360, 366], [366.3, 372, 371.6], [730.5, 735, 734.5]];
const bg = document.getElementById('bg').getContext('2d');
bg.fillStyle = '#000';
bg.font = 'italic 13px ' + FONT;
strayBands.forEach(([y0, y1, base]) => {
  bg.save();
  bg.beginPath(); bg.rect(0, y0, 1232, y1 - y0); bg.clip();
  strayLabels.forEach(([x, t]) => {
    bg.save(); bg.translate(x, base); bg.scale(WIDE, 1); bg.fillText(t, 0, 0); bg.restore();
  });
  bg.restore();
});
</script>
</body>
</html>
